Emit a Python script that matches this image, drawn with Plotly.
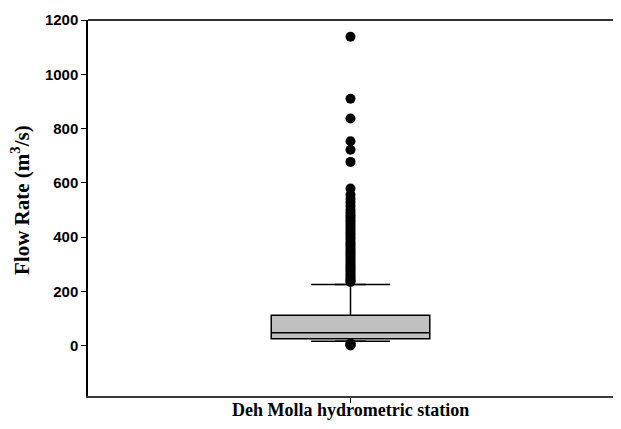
import plotly.graph_objects as go

station = ["Deh Molla hydrometric station"]
q1 = [25]
median = [47]
q3 = [112]
lower_whisker = [16]
upper_whisker = [225]
outliers_high = [1138, 910, 837, 753, 722, 677, 579, 556, 540, 527, 514, 501,
                 490, 480, 471, 462, 453, 444, 435, 426, 417, 408, 399, 390,
                 381, 372, 364, 356, 348, 340, 332, 324, 316, 308, 300, 292,
                 285, 278, 271, 264, 257, 250, 243, 238, 234]
outliers_low = [8, 5, 2, 0]
y_ticks = [0, 200, 400, 600, 800, 1000, 1200]

fig = go.Figure()
fig.add_trace(go.Box(
    x=[0], q1=q1, median=median, q3=q3,
    lowerfence=lower_whisker, upperfence=upper_whisker,
    width=0.604, fillcolor="#c0c0c0",
    line=dict(color="black", width=1.5),
    boxpoints=False, showlegend=False, hoverinfo="skip"))
# whisker caps
fig.add_trace(go.Scatter(
    x=[0, 0], y=lower_whisker + upper_whisker, mode="markers",
    marker=dict(symbol="line-ew", size=22, line=dict(color="black", width=1.5)),
    showlegend=False, hoverinfo="skip"))
outs = outliers_high + outliers_low
fig.add_trace(go.Scatter(
    x=[0] * len(outs), y=outs, mode="markers",
    marker=dict(symbol="circle", size=10, color="black"),
    showlegend=False))

# the page body adds an 8px margin, so the figure is shifted left/up by 8px
fig.update_layout(
    width=605, height=413,
    margin=dict(l=80, r=0, t=12, b=25, autoexpand=False),
    plot_bgcolor="white", paper_bgcolor="white",
    font=dict(family="Liberation Sans", color="black"),
    annotations=[
        dict(text="<b>" + station[0] + "</b>", xref="paper", yref="paper",
             x=0.5, y=0, yanchor="middle", yshift=-14, showarrow=False,
             font=dict(family="Liberation Serif", size=18, color="black")),
        dict(text="<b>Flow Rate (m<sup>3</sup>/s)</b>", xref="paper", yref="paper",
             x=0, y=0.5, xanchor="center", yanchor="middle", xshift=-68, yshift=8,
             textangle=-90, showarrow=False,
             font=dict(family="Liberation Serif", size=21, color="black")),
    ],
    shapes=[dict(type="line", xref="paper", yref="paper", x0=0, x1=1, y0=1, y1=1,
                 line=dict(color="#333333", width=2))],
)
fig.update_xaxes(
    range=[-1, 1], tickvals=[0], ticktext=[""],
    ticks="outside", ticklen=5, tickwidth=1, tickcolor="black",
    showline=True, linecolor="#3a3a3a", linewidth=2, mirror=False,
    showgrid=False, zeroline=False, automargin=False,
)
fig.update_yaxes(
    range=[-186, 1200], tickvals=y_ticks,
    ticks="outside", ticklen=5, tickwidth=1, tickcolor="black",
    tickfont=dict(family="Liberation Sans", size=15, color="black", weight="bold"),
    showline=True, linecolor="black", linewidth=1.5, mirror=False,
    showgrid=False, zeroline=False, automargin=False,
)
fig.write_html("out.html")
